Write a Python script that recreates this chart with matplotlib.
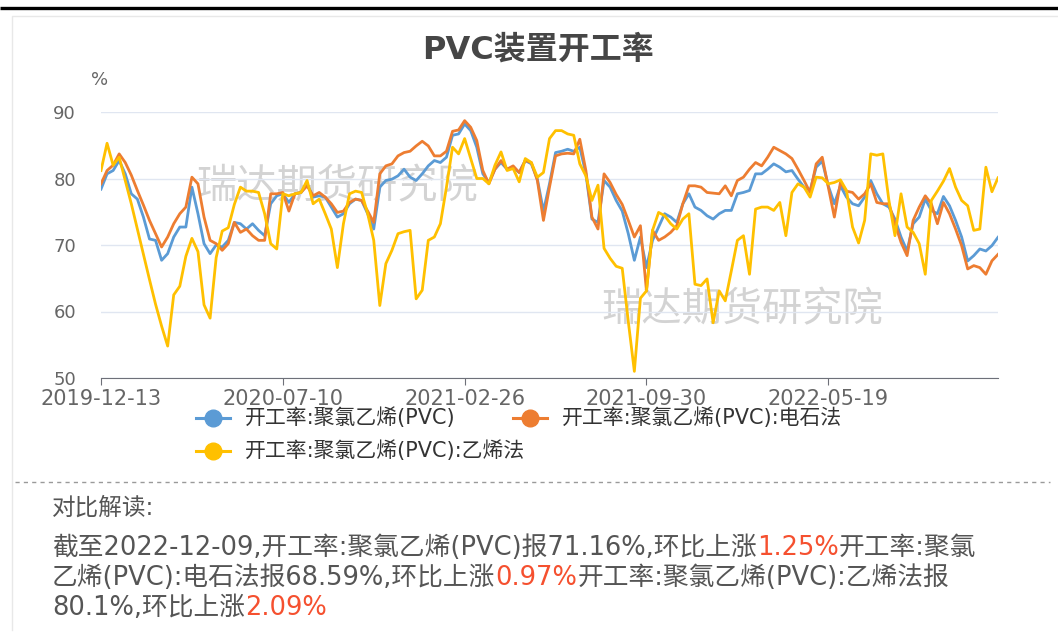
import matplotlib
matplotlib.use('Agg')
from matplotlib import pyplot as plt
import numpy as np

plt.rcParams['font.family'] = ['DejaVu Sans', 'Noto Sans CJK SC']

# weekly series, 2019-12-13 .. 2022-12-09
pvc = [78.4, 80.7, 81.2, 82.7, 80.7, 77.7, 76.9, 74.2, 70.9, 70.7,
       67.7, 68.7, 71.2, 72.7, 72.7, 78.7, 74.7, 70.2, 68.7, 70.0,
       69.7, 70.7, 73.4, 73.2, 72.4, 73.2, 72.2, 71.4, 76.2, 77.4,
       77.7, 76.4, 77.7, 77.9, 79.2, 77.2, 77.4, 77.2, 75.7, 74.2,
       74.7, 76.2, 76.9, 76.7, 74.7, 72.4, 78.7, 79.7, 79.9, 80.4,
       81.4, 80.2, 79.7, 80.7, 81.9, 82.7, 82.4, 83.2, 86.5, 86.7,
       88.2, 87.2, 84.7, 80.7, 79.4, 81.4, 82.4, 81.4, 81.7, 80.9,
       82.7, 82.2, 79.9, 75.1, 79.2, 83.9, 84.1, 84.4, 84.1, 84.7,
       80.7, 73.9, 73.4, 79.7, 78.7, 76.7, 75.1, 71.7, 67.7, 71.2,
       66.6, 70.7, 72.7, 74.7, 74.2, 73.4, 76.2, 77.7, 75.7, 75.2,
       74.4, 73.9, 74.7, 75.2, 75.2, 77.7, 77.9, 78.2, 80.7, 80.7,
       81.4, 82.2, 81.7, 81.0, 81.2, 79.9, 78.7, 78.2, 81.7, 82.6,
       78.9, 76.2, 78.9, 77.2, 76.2, 75.9, 77.2, 79.7, 77.7, 76.2,
       75.7, 73.9, 71.2, 69.1, 73.2, 74.2, 76.9, 75.2, 74.7, 77.3,
       75.9, 73.7, 71.2, 67.6, 68.4, 69.4, 69.1, 69.91, 71.16]

carbide = [79.2, 81.2, 82.0, 83.7, 82.4, 80.5, 78.2, 76.0, 73.7, 71.7,
           69.7, 71.2, 73.2, 74.7, 75.7, 80.2, 79.2, 74.2, 70.7, 70.2,
           69.2, 70.2, 73.4, 71.9, 72.4, 71.4, 70.7, 70.7, 77.7, 77.7,
           77.9, 75.1, 77.7, 77.9, 78.9, 77.4, 77.9, 77.2, 76.2, 74.9,
           75.1, 76.4, 76.9, 76.7, 75.1, 73.4, 80.7, 81.9, 82.2, 83.4,
           83.9, 84.1, 84.9, 85.6, 84.9, 83.4, 83.4, 84.1, 87.1, 87.3,
           88.7, 87.7, 85.7, 81.2, 79.2, 81.4, 82.7, 81.4, 81.9, 80.9,
           82.7, 82.4, 79.7, 73.7, 78.7, 83.4, 83.7, 83.8, 83.7, 85.9,
           81.2, 74.2, 72.4, 80.7, 79.4, 77.6, 76.1, 73.7, 71.2, 72.9,
           63.1, 72.2, 70.7, 71.2, 71.9, 72.9, 76.2, 78.9, 78.9, 78.7,
           77.9, 77.8, 77.7, 78.9, 77.4, 79.7, 80.2, 81.4, 82.4, 81.9,
           83.2, 84.7, 84.2, 83.7, 83.0, 81.4, 79.7, 77.9, 82.2, 83.2,
           78.7, 74.2, 79.4, 78.1, 77.9, 76.9, 77.7, 79.2, 76.4, 76.2,
           76.2, 73.2, 70.4, 68.4, 73.7, 75.7, 77.4, 76.2, 73.2, 76.4,
           74.7, 72.4, 69.9, 66.4, 66.9, 66.6, 65.6, 67.62, 68.59]

ethylene = [81.2, 85.3, 82.0, 83.2, 79.7, 76.2, 72.4, 68.6, 64.8, 61.1,
            57.8, 54.8, 62.5, 63.8, 68.3, 71.0, 69.0, 61.0, 59.0, 68.1,
            72.1, 72.6, 76.1, 78.7, 78.1, 78.1, 77.9, 74.7, 70.2, 69.4,
            77.7, 77.4, 77.7, 77.9, 79.7, 76.2, 76.9, 74.7, 72.4, 66.6,
            73.2, 77.7, 78.1, 77.9, 74.7, 70.7, 60.9, 67.2, 69.2, 71.7,
            72.0, 72.2, 61.9, 63.2, 70.7, 71.2, 73.2, 78.7, 84.7, 83.7,
            86.0, 83.0, 80.0, 80.0, 79.2, 82.0, 84.0, 81.2, 81.5, 79.5,
            83.0, 82.4, 80.2, 80.9, 86.0, 87.2, 87.2, 86.7, 86.5, 82.2,
            80.4, 76.7, 79.0, 69.5, 68.0, 66.8, 66.5, 58.5, 51.0, 62.0,
            63.1, 72.2, 74.9, 74.4, 73.2, 72.4, 73.9, 74.7, 64.1, 63.9,
            64.9, 58.3, 63.1, 61.6, 66.1, 70.7, 71.4, 65.6, 75.4, 75.7,
            75.7, 75.2, 76.4, 71.4, 77.9, 79.2, 78.7, 77.2, 80.2, 80.1,
            79.2, 79.4, 79.8, 78.2, 72.7, 70.3, 73.7, 83.7, 83.5, 83.7,
            76.7, 71.4, 77.7, 72.7, 71.9, 70.2, 65.6, 76.7, 78.1, 79.6,
            81.5, 78.7, 76.7, 75.9, 72.2, 72.4, 81.7, 78.01, 80.1]

tick_pos = [0, 30, 60, 90, 120]
tick_labels = ['2019-12-13', '2020-07-10', '2021-02-26', '2021-09-30', '2022-05-19']
names = ['开工率:聚氯乙烯(PVC)', '开工率:聚氯乙烯(PVC):电石法', '开工率:聚氯乙烯(PVC):乙烯法']
colors = ['#5B9BD5', '#ED7D31', '#FFC000']

W, H = 1058, 640
fig = plt.figure(figsize=(W / 100, H / 100), dpi=100)
fig.patch.set_facecolor('white')

# overlay in pixel coordinates for decorations
ov = fig.add_axes([0, 0, 1, 1])
ov.set_xlim(0, W)
ov.set_ylim(H, 0)
ov.axis('off')
ov.plot([0, W], [8, 8], color='black', lw=2.4, solid_capstyle='butt')
ov.plot([12, 12, W], [630, 16, 16], color='#E8E8E8', lw=1)

ax = fig.add_axes([101 / W, 1 - 378 / H, 897 / W, 266 / H])
x = np.arange(len(pvc))
for s, c in zip([pvc, carbide, ethylene], colors):
    ax.plot(x, s, color=c, lw=2.0, zorder=3)
ax.set_xlim(0, len(pvc) - 1)
ax.set_ylim(50, 90)
ax.set_yticks([50, 60, 70, 80, 90])
ax.grid(axis='y', color='#E0E6F1', lw=1)
ax.set_axisbelow(True)
for sp in ['left', 'right', 'top']:
    ax.spines[sp].set_visible(False)
ax.spines['bottom'].set_color('#6E7079')
ax.set_xticks(tick_pos)
ax.set_xticklabels(tick_labels)
ax.tick_params(axis='x', colors='#6E7079', length=5, labelsize=15, labelcolor='#666666', pad=3)
ax.tick_params(axis='y', length=0, labelsize=13, labelcolor='#666666', pad=18)
ax.patch.set_alpha(0)

ov.text(100, 80, '%', fontsize=13, color='#666666', ha='center', va='center')
ov.text(538, 50, 'PVC装置开工率', fontsize=23, fontweight='bold', color='#464646', ha='center', va='center')

# watermarks
for wx, wy in [(337, 187), (742, 310)]:
    ov.text(wx, wy, '瑞达期货研究院', fontsize=29, color='#B0B0B0', alpha=0.55,
            ha='center', va='center', zorder=0)

# legend
leg = [(213, 418), (530, 418), (213, 451)]
for (lx, ly), c, n in zip(leg, colors, names):
    ov.plot([lx - 17, lx + 17], [ly, ly], color=c, lw=2.2)
    ov.plot([lx], [ly], 'o', color=c, ms=12)
    ov.text(lx + 32, ly, n, fontsize=15, color='#333333', ha='left', va='center')

ov.plot([15, 1050], [482, 482], color='#9A9A9A', lw=1, dashes=(3, 3))
ov.text(52, 508, '对比解读:', fontsize=17, color='#555555', ha='left', va='center')

red = '#F5502F'
gray = '#555555'
lines = [
    [('截至2022-12-09,开工率:聚氯乙烯(PVC)报71.16%,环比上涨', gray), ('1.25%', red), ('开工率:聚氯', gray)],
    [('乙烯(PVC):电石法报68.59%,环比上涨', gray), ('0.97%', red), ('开工率:聚氯乙烯(PVC):乙烯法报', gray)],
    [('80.1%,环比上涨', gray), ('2.09%', red)],
]
fig.canvas.draw()
rend = fig.canvas.get_renderer()
for k, segs in enumerate(lines):
    cx = 52
    cy = 548 + 30 * k
    for txt, col in segs:
        t = ov.text(cx, cy, txt, fontsize=18.5, color=col, ha='left', va='center')
        bb = t.get_window_extent(renderer=rend)
        cx += bb.width

plt.savefig('out.png', dpi=100)
